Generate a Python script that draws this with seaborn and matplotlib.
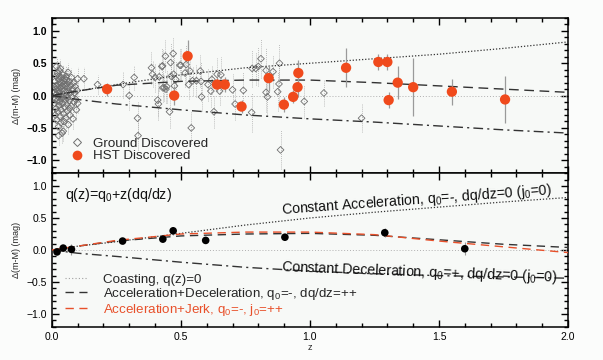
import numpy as np
import pandas as pd
import matplotlib
matplotlib.use("Agg")
import matplotlib.pyplot as plt
from matplotlib.lines import Line2D
from matplotlib.ticker import MultipleLocator
import seaborn as sns

# ---------------- data ----------------
# Ground-discovered SNe (top panel)
ground_z = [0.010, 0.011, 0.012, 0.013, 0.014, 0.015, 0.016, 0.016, 0.017, 0.018,
            0.019, 0.020, 0.021, 0.022, 0.023, 0.024, 0.025, 0.026, 0.027, 0.028,
            0.029, 0.030, 0.031, 0.032, 0.033, 0.034, 0.035, 0.036, 0.037, 0.038,
            0.039, 0.040, 0.041, 0.042, 0.043, 0.044, 0.045, 0.046, 0.047, 0.048,
            0.049, 0.050, 0.052, 0.053, 0.054, 0.055, 0.056, 0.058, 0.059, 0.060,
            0.062, 0.063, 0.064, 0.066, 0.067, 0.068, 0.070, 0.072, 0.073, 0.075,
            0.076, 0.078, 0.080, 0.082, 0.084, 0.086, 0.088, 0.090, 0.093, 0.095,
            0.098, 0.100, 0.023, 0.028, 0.035, 0.041, 0.047, 0.057, 0.061, 0.069,
            0.018, 0.026, 0.033, 0.044,
            0.100, 0.124, 0.177, 0.276, 0.300, 0.319, 0.332, 0.334, 0.386, 0.390,
            0.400, 0.410, 0.413, 0.416, 0.426, 0.429, 0.430, 0.435, 0.440, 0.442,
            0.445, 0.456, 0.460, 0.462, 0.470, 0.472, 0.475, 0.480, 0.496, 0.500,
            0.516, 0.520, 0.530, 0.535, 0.540, 0.545, 0.560, 0.575, 0.578, 0.580,
            0.605, 0.616, 0.620, 0.628, 0.640, 0.650, 0.655, 0.700, 0.710, 0.742,
            0.774, 0.776, 0.790, 0.800, 0.810, 0.830, 0.830, 0.835, 0.857, 0.875,
            0.880, 0.882, 0.886, 0.978, 1.054, 1.200]
ground_dm = [0.05, -0.12, 0.22, -0.30, 0.10, -0.05, 0.30, -0.20, 0.02, 0.15,
             -0.38, -0.08, 0.35, 0.08, -0.25, 0.18, -0.02, -0.48, 0.25, -0.15,
             0.05, 0.38, -0.10, 0.12, -0.32, 0.00, 0.20, -0.22, 0.28, -0.05,
             0.10, -0.58, 0.15, -0.12, 0.32, 0.02, -0.28, 0.22, -0.40, 0.08,
             -0.18, 0.26, -0.06, 0.14, -0.35, 0.30, 0.00, -0.14, 0.18, -0.24,
             0.06, 0.36, -0.45, 0.12, -0.08, 0.22, -0.30, 0.04, 0.16, -0.16,
             0.28, -0.02, 0.10, -0.36, 0.20, -0.10, 0.04, 0.14, -0.06, -0.22,
             0.08, -0.12, 0.12, 0.30, -0.42, -0.02, 0.18, 0.24, -0.04, -0.20,
             0.45, -0.62, 0.42, -0.55,
             0.26, 0.26, 0.17, 0.17, 0.00, 0.28, -0.35, -0.62, 0.43, 0.33,
             0.28, -0.07, -0.13, 0.29, 0.45, 0.46, 0.12, 0.12, 0.61, 0.10,
             0.14, -0.25, 0.51, 0.30, 0.65, 0.33, 0.15, 0.25, 0.47, 0.47,
             0.35, 0.48, 0.17, 0.38, -0.50, 0.23, 0.23, 0.38, 0.22, -0.02,
             0.17, 0.07, 0.25, -0.25, 0.33, 0.07, 0.32, 0.09, -0.13, 0.08,
             -0.26, 0.42, 0.42, 0.45, 0.57, 0.39, 0.05, -0.02, 0.37, 0.06,
             0.18, 0.50, -0.84, -0.09, 0.04, -0.35]
ground_err = [0.15] * 84 + [
             0.18, 0.18, 0.15, 0.20, 0.22, 0.20, 0.25, 0.22, 0.25, 0.20,
             0.22, 0.25, 0.25, 0.22, 0.28, 0.25, 0.22, 0.20, 0.25, 0.22,
             0.25, 0.25, 0.30, 0.22, 0.25, 0.30, 0.22, 0.28, 0.25, 0.25,
             0.22, 0.30, 0.22, 0.25, 0.25, 0.22, 0.25, 0.25, 0.30, 0.22,
             0.25, 0.25, 0.22, 0.25, 0.25, 0.22, 0.28, 0.25, 0.25, 0.28,
             0.30, 0.28, 0.25, 0.30, 0.30, 0.35, 0.30, 0.28, 0.25, 0.30,
             0.28, 0.30, 0.30, 0.25, 0.20, 0.22]

# HST-discovered SNe (top panel)
hst_z = [0.214, 0.474, 0.526, 0.640, 0.670, 0.735, 0.840, 0.899, 0.935, 0.952,
         0.955, 1.140, 1.265, 1.300, 1.305, 1.340, 1.400, 1.550, 1.756]
hst_dm = [0.10, 0.00, 0.61, 0.17, 0.17, -0.17, 0.27, -0.14, -0.02, 0.13,
          0.35, 0.43, 0.52, 0.52, -0.07, 0.20, 0.13, 0.06, -0.06]
hst_err = [0.10, 0.15, 0.25, 0.12, 0.12, 0.10, 0.20, 0.12, 0.10, 0.15,
           0.20, 0.30, 0.12, 0.12, 0.12, 0.25, 0.45, 0.20, 0.36]

# Binned data (bottom panel)
bin_z = [0.020, 0.044, 0.076, 0.274, 0.430, 0.470, 0.596, 0.903, 1.290, 1.600]
bin_dm = [-0.03, 0.03, 0.01, 0.14, 0.17, 0.30, 0.15, 0.20, 0.27, 0.02]
bin_err = [0.03, 0.03, 0.09, 0.04, 0.04, 0.06, 0.04, 0.05, 0.07, 0.10]

# Model curves
curve_z = [0.0, 0.1, 0.25, 0.5, 0.75, 1.0, 1.25, 1.5, 1.75, 2.0]
top_accel = [0.0, 0.07, 0.17, 0.32, 0.43, 0.50, 0.57, 0.64, 0.73, 0.83]
top_accdec = [0.0, 0.07, 0.16, 0.22, 0.24, 0.24, 0.20, 0.15, 0.10, 0.05]
top_decel = [0.0, -0.06, -0.13, -0.22, -0.30, -0.36, -0.41, -0.47, -0.53, -0.58]
bot_accel = [0.0, 0.06, 0.13, 0.26, 0.39, 0.50, 0.59, 0.67, 0.75, 0.82]
bot_accdec = [0.0, 0.06, 0.14, 0.22, 0.25, 0.26, 0.23, 0.16, 0.09, 0.04]
bot_jerk = [0.0, 0.06, 0.15, 0.25, 0.28, 0.28, 0.24, 0.14, 0.05, -0.04]
bot_decel = [0.0, -0.05, -0.10, -0.19, -0.27, -0.33, -0.37, -0.40, -0.42, -0.44]
coast = [0.0] * len(curve_z)

# ---------------- styling ----------------
sns.set_theme(style="ticks")
plt.rcParams["font.family"] = ["Liberation Sans", "DejaVu Sans"]
plt.rcParams["mathtext.fontset"] = "custom"
plt.rcParams["mathtext.rm"] = "Liberation Sans"
plt.rcParams["mathtext.it"] = "Liberation Sans"

RED = "#f04a1c"
fig = plt.figure(figsize=(6.03, 3.6), dpi=100, facecolor="#fbfcfb")
ax1 = fig.add_axes([0.086, 0.519, 0.856, 0.431])
ax2 = fig.add_axes([0.086, 0.092, 0.856, 0.427], sharex=ax1)

for ax in (ax1, ax2):
    ax.set_facecolor("#f7f9f7")
    for s in ax.spines.values():
        s.set_linewidth(1.1)
        s.set_color("black")
    ax.xaxis.set_major_locator(MultipleLocator(0.5))
    ax.xaxis.set_minor_locator(MultipleLocator(0.1))
    ax.yaxis.set_major_locator(MultipleLocator(0.5))
    ax.yaxis.set_minor_locator(MultipleLocator(0.1))
    ax.tick_params(which="both", direction="in", top=True, right=True,
                   colors="black", labelsize=7.5, width=1.0)
    ax.tick_params(which="major", length=5)
    ax.tick_params(which="minor", length=3)
    ax.set_xlim(0, 2.0)
    ax.set_ylim(-1.2, 1.2)
    ax.set_ylabel("Δ(m-M) (mag)", fontsize=6.5, labelpad=4)

ax1.tick_params(labelbottom=False)
for lab in ax1.get_yticklabels():
    lab.set_fontweight("bold")

# ---------------- top panel ----------------
df_curves = pd.DataFrame({"z": curve_z, "accel": top_accel, "accdec": top_accdec,
                          "decel": top_decel, "coast": coast,
                          "baccel": bot_accel, "baccdec": bot_accdec,
                          "bjerk": bot_jerk, "bdecel": bot_decel})

sns.lineplot(data=df_curves, x="z", y="coast", ax=ax1, color="#b0b0b0",
             lw=0.7, linestyle=(0, (1, 2)), zorder=1)
ax1.errorbar(ground_z, ground_dm, yerr=ground_err, fmt="none",
             ecolor="#a8a8a8", elinewidth=0.6, zorder=1)
for coll in ax1.collections:
    coll.set_linestyle((0, (1, 1.5)))
sns.scatterplot(x=ground_z, y=ground_dm, ax=ax1, marker="D", s=12,
                facecolor="none", edgecolor="#6f6f6f", linewidth=0.6, zorder=2)
sns.lineplot(data=df_curves, x="z", y="accel", ax=ax1, color="#333333",
             lw=0.9, linestyle=(0, (1, 1.5)), zorder=3)
sns.lineplot(data=df_curves, x="z", y="accdec", ax=ax1, color="#333333",
             lw=1.0, linestyle=(0, (7, 4)), zorder=3)
sns.lineplot(data=df_curves, x="z", y="decel", ax=ax1, color="#333333",
             lw=1.0, linestyle=(0, (7, 3, 1.5, 3)), zorder=3)
ax1.errorbar(hst_z, hst_dm, yerr=hst_err, fmt="none", ecolor="#9a9a9a",
             elinewidth=0.9, zorder=4)
sns.scatterplot(x=hst_z, y=hst_dm, ax=ax1, color=RED, s=55,
                edgecolor="none", zorder=5)

h_ground = Line2D([], [], marker="D", linestyle="none", markersize=4,
                  markerfacecolor="none", markeredgecolor="#6f6f6f",
                  markeredgewidth=0.7)
h_hst = Line2D([], [], marker="o", linestyle="none", markersize=7,
               markerfacecolor=RED, markeredgecolor="none")
leg1 = ax1.legend([h_ground, h_hst], ["Ground Discovered", "HST Discovered"],
                  loc="lower left", bbox_to_anchor=(0.035, 0.07),
                  frameon=False, fontsize=9.6, handlelength=1.0,
                  handletextpad=0.7, labelspacing=0.0, borderpad=0,
                  borderaxespad=0)
ax1.set_xlabel("")

# ---------------- bottom panel ----------------
sns.lineplot(data=df_curves, x="z", y="coast", ax=ax2, color="#b0b0b0",
             lw=0.7, linestyle=(0, (1, 2)), zorder=1)
sns.lineplot(data=df_curves, x="z", y="baccel", ax=ax2, color="#333333",
             lw=0.9, linestyle=(0, (1, 1.5)), zorder=2)
sns.lineplot(data=df_curves, x="z", y="bdecel", ax=ax2, color="#333333",
             lw=1.0, linestyle=(0, (7, 3, 1.5, 3)), zorder=2)
sns.lineplot(data=df_curves, x="z", y="baccdec", ax=ax2, color="#333333",
             lw=1.0, linestyle=(0, (6, 4)), zorder=3)
sns.lineplot(data=df_curves, x="z", y="bjerk", ax=ax2, color="#e8502a",
             lw=1.0, linestyle=(0, (6, 4)), zorder=3)
ax2.errorbar(bin_z, bin_dm, yerr=bin_err, fmt="none", ecolor="#9a9a9a",
             elinewidth=0.8, zorder=4)
sns.scatterplot(x=bin_z, y=bin_dm, ax=ax2, color="black", s=30,
                edgecolor="none", zorder=5)

ax2.text(0.05, 0.86, "q(z)=q$_0$+z(dq/dz)", fontsize=10.2, ha="left",
         va="center", color="#111111")
ax2.text(0.89, 0.555, "Constant Acceleration, q$_0$=-, dq/dz=0 (j$_0$=0)",
         fontsize=10.2, rotation=4.2, rotation_mode="anchor", ha="left",
         va="baseline", color="#111111")
ax2.text(0.89, -0.32, "Constant Deceleration, q$_0$=+, dq/dz=0 (j$_0$=0)",
         fontsize=10.2, rotation=-2.2, rotation_mode="anchor", ha="left",
         va="baseline", color="#111111")

h_coast = Line2D([], [], color="#a0a0a0", lw=0.8, linestyle=(0, (1, 2)))
h_accdec = Line2D([], [], color="#333333", lw=1.0, linestyle=(0, (6, 4)))
h_jerk = Line2D([], [], color="#e8502a", lw=1.0, linestyle=(0, (6, 4)))
leg2 = ax2.legend([h_coast, h_accdec, h_jerk],
                  ["Coasting, q(z)=0",
                   "Acceleration+Deceleration, q$_0$=-, dq/dz=++",
                   "Acceleration+Jerk, q$_0$=-, j$_0$=++"],
                  loc="lower left", bbox_to_anchor=(0.025, 0.06),
                  frameon=False, fontsize=9.6, handlelength=1.7,
                  handletextpad=1.2, labelspacing=0.0, borderpad=0,
                  borderaxespad=0)
leg2.get_texts()[2].set_color("#e8502a")
ax2.set_xlabel("z", fontsize=6.5, labelpad=1)

fig.savefig("out.png", dpi=100, facecolor=fig.get_facecolor())
